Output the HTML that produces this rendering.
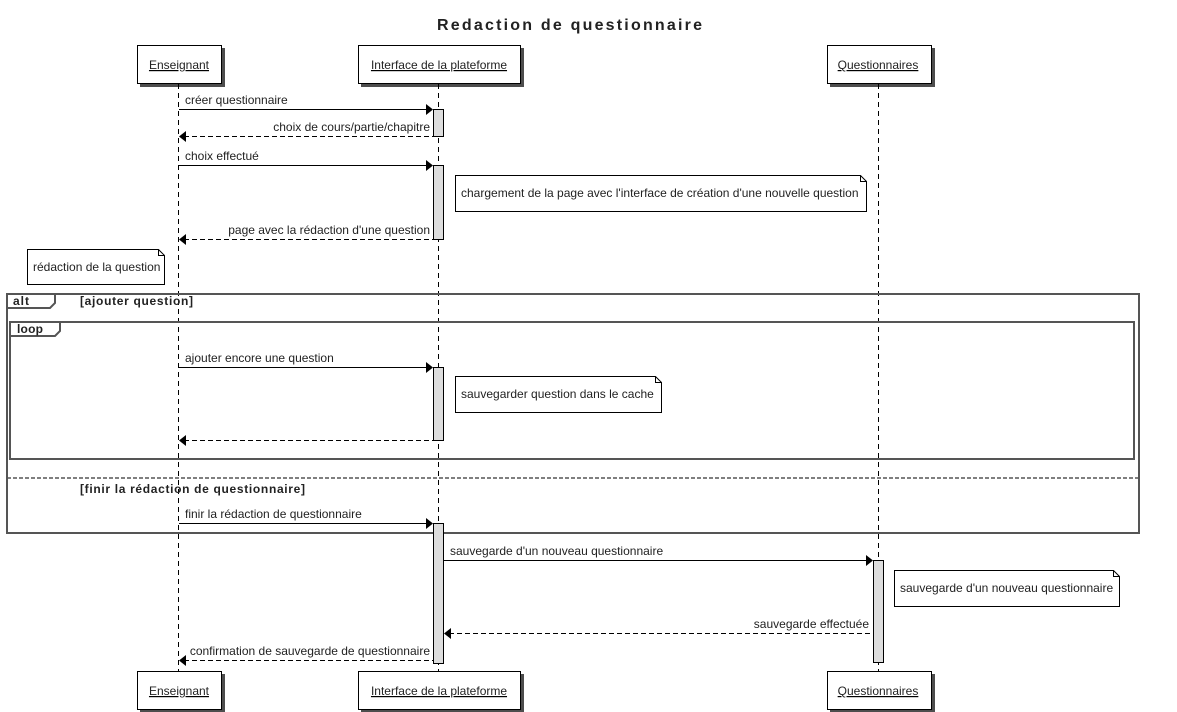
<!DOCTYPE html>
<html><head><meta charset="utf-8"><style>
html,body{margin:0;padding:0;background:#fff;width:1177px;height:712px;overflow:hidden}
text{font-family:"Liberation Sans",Arial,sans-serif;font-size:12px;fill:#222}
</style></head><body>
<svg width="1177" height="712" viewBox="0 0 1177 712" xmlns="http://www.w3.org/2000/svg">
<defs>
<filter id="sh" x="-10%" y="-10%" width="130%" height="130%"><feOffset dx="3" dy="3" in="SourceAlpha" result="o"/><feFlood flood-color="#000" flood-opacity="0.7"/><feComposite in2="o" operator="in"/><feMerge><feMergeNode/><feMergeNode in="SourceGraphic"/></feMerge></filter>
</defs>
<text x="437" y="30" textLength="265" lengthAdjust="spacing" style="font-size:16px;font-weight:bold">Redaction de questionnaire</text>

<g stroke="#000" stroke-dasharray="5,4" stroke-width="1">
<line x1="178.5" y1="84" x2="178.5" y2="671"/>
<line x1="438.5" y1="84" x2="438.5" y2="671"/>
<line x1="878.5" y1="84" x2="878.5" y2="671"/>
</g>

<g fill="#fff" stroke="#000" filter="url(#sh)">
<rect x="137.5" y="45.5" width="84" height="38"/>
<rect x="358.5" y="45.5" width="162" height="38"/>
<rect x="827.5" y="45.5" width="104" height="38"/>
<rect x="137.5" y="671.5" width="84" height="38"/>
<rect x="358.5" y="671.5" width="162" height="38"/>
<rect x="827.5" y="671.5" width="104" height="38"/>
</g>
<g text-anchor="middle" text-decoration="underline">
<text x="179" y="69">Enseignant</text>
<text x="439" y="69">Interface de la plateforme</text>
<text x="878" y="69">Questionnaires</text>
<text x="179" y="695">Enseignant</text>
<text x="439" y="695">Interface de la plateforme</text>
<text x="878" y="695">Questionnaires</text>
</g>

<g fill="none" stroke="#555" stroke-width="2">
<rect x="7" y="294" width="1132" height="239"/>
<rect x="10" y="322" width="1124" height="137"/>
<path d="M7 308 H50 L55 303 V294"/>
<path d="M10 336 H55 L60 331 V322"/>
</g>
<line x1="7" y1="478" x2="1139" y2="478" stroke="#555" stroke-width="1.5" stroke-dasharray="4,2"/>
<g style="font-weight:bold">
<text x="13" y="305" textLength="16" lengthAdjust="spacing">alt</text>
<text x="80" y="305" textLength="113" lengthAdjust="spacing">[ajouter question]</text>
<text x="17" y="333" textLength="26" lengthAdjust="spacing">loop</text>
<text x="80" y="493" textLength="225" lengthAdjust="spacing">[finir la rédaction de questionnaire]</text>
</g>

<g fill="#ddd" stroke="#000">
<rect x="433.5" y="109.5" width="10" height="27"/>
<rect x="433.5" y="165.5" width="10" height="74"/>
<rect x="433.5" y="367.5" width="10" height="73"/>
<rect x="433.5" y="523.5" width="10" height="140"/>
<rect x="873.5" y="560.5" width="10" height="102"/>
</g>

<g fill="#fff" stroke="#000">
<path d="M455.5 175.5 H860.5 L866.5 181.5 V211.5 H455.5 Z"/>
<path d="M27.5 249.5 H158.5 L164.5 255.5 V284.5 H27.5 Z"/>
<path d="M455.5 376.5 H655.5 L661.5 382.5 V412.5 H455.5 Z"/>
<path d="M894.5 570.5 H1113.5 L1119.5 576.5 V606.5 H894.5 Z"/>
</g>
<g fill="none" stroke="#000">
<path d="M860.5 175.5 V181.5 H866.5"/>
<path d="M158.5 249.5 V255.5 H164.5"/>
<path d="M655.5 376.5 V382.5 H661.5"/>
<path d="M1113.5 570.5 V576.5 H1119.5"/>
</g>
<text x="461" y="197">chargement de la page avec l'interface de création d'une nouvelle question</text>
<text x="33" y="271">rédaction de la question</text>
<text x="461" y="398">sauvegarder question dans le cache</text>
<text x="900" y="592">sauvegarde d'un nouveau questionnaire</text>

<g stroke="#000" stroke-width="1">
<line x1="179" y1="109.5" x2="428" y2="109.5"/>
<line x1="184" y1="136.5" x2="433" y2="136.5" stroke-dasharray="5,3"/>
<line x1="179" y1="165.5" x2="428" y2="165.5"/>
<line x1="184" y1="239.5" x2="433" y2="239.5" stroke-dasharray="5,3"/>
<line x1="179" y1="367.5" x2="428" y2="367.5"/>
<line x1="184" y1="440.5" x2="433" y2="440.5" stroke-dasharray="5,3"/>
<line x1="179" y1="523.5" x2="428" y2="523.5"/>
<line x1="444" y1="560.5" x2="868" y2="560.5"/>
<line x1="449" y1="633.5" x2="873" y2="633.5" stroke-dasharray="5,3"/>
<line x1="184" y1="660.5" x2="433" y2="660.5" stroke-dasharray="5,3"/>
</g>
<g fill="#000">
<path d="M433 109.5 L426 104 V115 Z"/>
<path d="M179 136.5 L186 131 V142 Z"/>
<path d="M433 165.5 L426 160 V171 Z"/>
<path d="M179 239.5 L186 234 V245 Z"/>
<path d="M433 367.5 L426 362 V373 Z"/>
<path d="M179 440.5 L186 435 V446 Z"/>
<path d="M433 523.5 L426 518 V529 Z"/>
<path d="M873 560.5 L866 555 V566 Z"/>
<path d="M444 633.5 L451 628 V639 Z"/>
<path d="M179 660.5 L186 655 V666 Z"/>
</g>
<text x="185" y="104">créer questionnaire</text>
<text x="430" y="131" text-anchor="end">choix de cours/partie/chapitre</text>
<text x="185" y="160">choix effectué</text>
<text x="430" y="234" text-anchor="end">page avec la rédaction d'une question</text>
<text x="185" y="362">ajouter encore une question</text>
<text x="185" y="518">finir la rédaction de questionnaire</text>
<text x="450" y="555">sauvegarde d'un nouveau questionnaire</text>
<text x="869" y="628" text-anchor="end">sauvegarde effectuée</text>
<text x="430" y="655" text-anchor="end">confirmation de sauvegarde de questionnaire</text>
</svg>
</body></html>
